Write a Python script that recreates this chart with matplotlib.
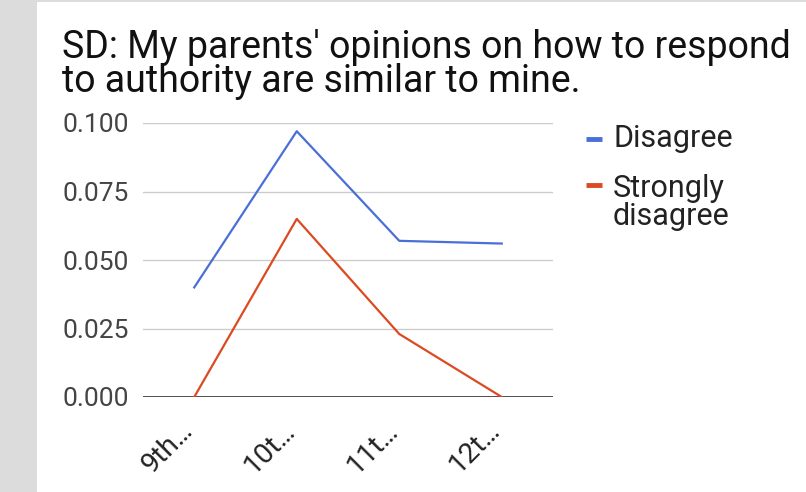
import matplotlib.pyplot as plt
from matplotlib.patches import Rectangle
from matplotlib.lines import Line2D
from matplotlib.transforms import ScaledTranslation

plt.rcParams['font.family'] = ['Roboto', 'DejaVu Sans']

grades = ["9th…", "10t…", "11t…", "12t…"]
disagree = [0.040, 0.097, 0.057, 0.056]
strongly_disagree = [0.000, 0.065, 0.023, 0.000]
yticks = [0.000, 0.025, 0.050, 0.075, 0.100]

blue = "#4a6fd6"
red = "#dc4a22"

W, H = 806, 492
fig = plt.figure(figsize=(W / 100, H / 100), dpi=100)
fig.patch.set_facecolor("#dcdcdc")
fig.patches.append(Rectangle((37 / W, 0), 1 - 37 / W, 1 - 2 / H,
                             transform=fig.transFigure, facecolor="white",
                             edgecolor="none", zorder=-5))

ax = fig.add_axes([143 / W, 1 - 397 / H, (553 - 143) / W, (397 - 123) / H])
ax.set_facecolor("none")
x = range(len(grades))
ax.plot(x, disagree, color=blue, lw=1.6, label="Disagree")
ax.plot(x, strongly_disagree, color=red, lw=1.6, label="Strongly\ndisagree")

ax.set_xlim(-0.5, len(grades) - 0.5)
ax.set_ylim(0, 0.1)
ax.set_yticks(yticks)
ax.set_yticklabels([f"{v:.3f}" for v in yticks])
ax.set_xticks(list(x))
ax.set_xticklabels(grades, rotation=45, ha="right", va="baseline",
                   rotation_mode="anchor", fontsize=20.5, color="#222222")
# shift labels so their ends sit just right of the tick, like the original
for lbl in ax.get_xticklabels():
    lbl.set_transform(lbl.get_transform() + ScaledTranslation(0.2, 0, fig.dpi_scale_trans))
ax.tick_params(axis="y", length=0, pad=10, labelsize=19, labelcolor="#444444")
ax.tick_params(axis="x", length=0, pad=25)
ax.grid(axis="y", color="#cccccc", lw=1)
ax.set_axisbelow(True)
for s in ax.spines.values():
    s.set_visible(False)
ax.axhline(0, color="#333333", lw=1.2, zorder=1)

fig.text(62 / W, 1 - 92 / H, "SD: My parents' opinions on how to respond\nto authority are similar to mine.",
         fontsize=27, color="#111111", va="baseline", ha="left", linespacing=0.91)

# legend
fig.lines.append(Line2D([586 / W, 602 / W], [1 - 139 / H] * 2, transform=fig.transFigure,
                        color=blue, lw=3.5, solid_capstyle="butt"))
fig.lines.append(Line2D([586 / W, 602 / W], [1 - 185 / H] * 2, transform=fig.transFigure,
                        color=red, lw=3.5, solid_capstyle="butt"))
fig.text(613 / W, 1 - 147 / H, "Disagree", fontsize=22, color="#222222", va="baseline")
fig.text(613 / W, 1 - 225 / H, "Strongly\ndisagree", fontsize=22, color="#222222",
         va="baseline", linespacing=0.95)

fig.savefig("out.png", dpi=100)
